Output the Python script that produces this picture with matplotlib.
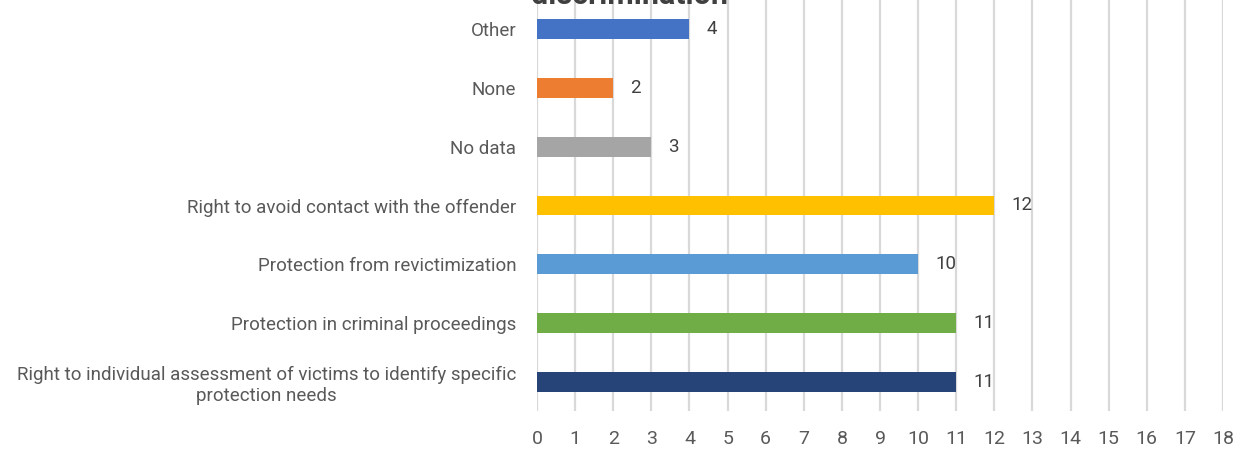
import matplotlib
matplotlib.use("Agg")
import matplotlib.pyplot as plt

# data, bottom to top
categories = [
    "Right to individual assessment of victims to identify specific\nprotection needs",
    "Protection in criminal proceedings",
    "Protection from revictimization",
    "Right to avoid contact with the offender",
    "No data",
    "None",
    "Other",
]
values = [11, 11, 10, 12, 3, 2, 4]
colors = ["#264478", "#70AD47", "#5B9BD5", "#FFC000", "#A5A5A5", "#ED7D31", "#4472C4"]
xticks = list(range(0, 19))

plt.rcParams["font.family"] = ["Roboto", "DejaVu Sans"]

fig = plt.figure(figsize=(12.36, 4.49), dpi=100)
ax = fig.add_axes([537 / 1236, 1 - 411 / 449, (1223 - 537) / 1236, 411 / 449])

y = list(range(len(categories)))
ax.barh(y, values, height=0.34, color=colors, zorder=3)
for yi, v in zip(y, values):
    ax.text(v + 0.45, yi, str(v), va="center", ha="left", fontsize=13.5, color="#404040")

ax.set_xlim(0, 18)
ax.set_ylim(-0.5, len(categories) - 0.5)
ax.set_xticks(xticks)
ax.set_yticks(y)
ax.set_yticklabels(categories, fontsize=13.5, color="#595959", ha="right",
                   multialignment="center", linespacing=1.25)
ax.tick_params(axis="y", length=0, pad=15)
ax.tick_params(axis="x", length=0, pad=14, labelsize=14, labelcolor="#595959")
ax.grid(axis="x", color="#D9D9D9", lw=1.6, zorder=0)
for s in ax.spines.values():
    s.set_visible(False)

# title is clipped by the top edge in the original
fig.text(630 / 1236, 1.011, "discrimination", ha="center", va="center",
         fontsize=22, fontweight="bold", color="#404040")

fig.savefig("out.png", dpi=100)
